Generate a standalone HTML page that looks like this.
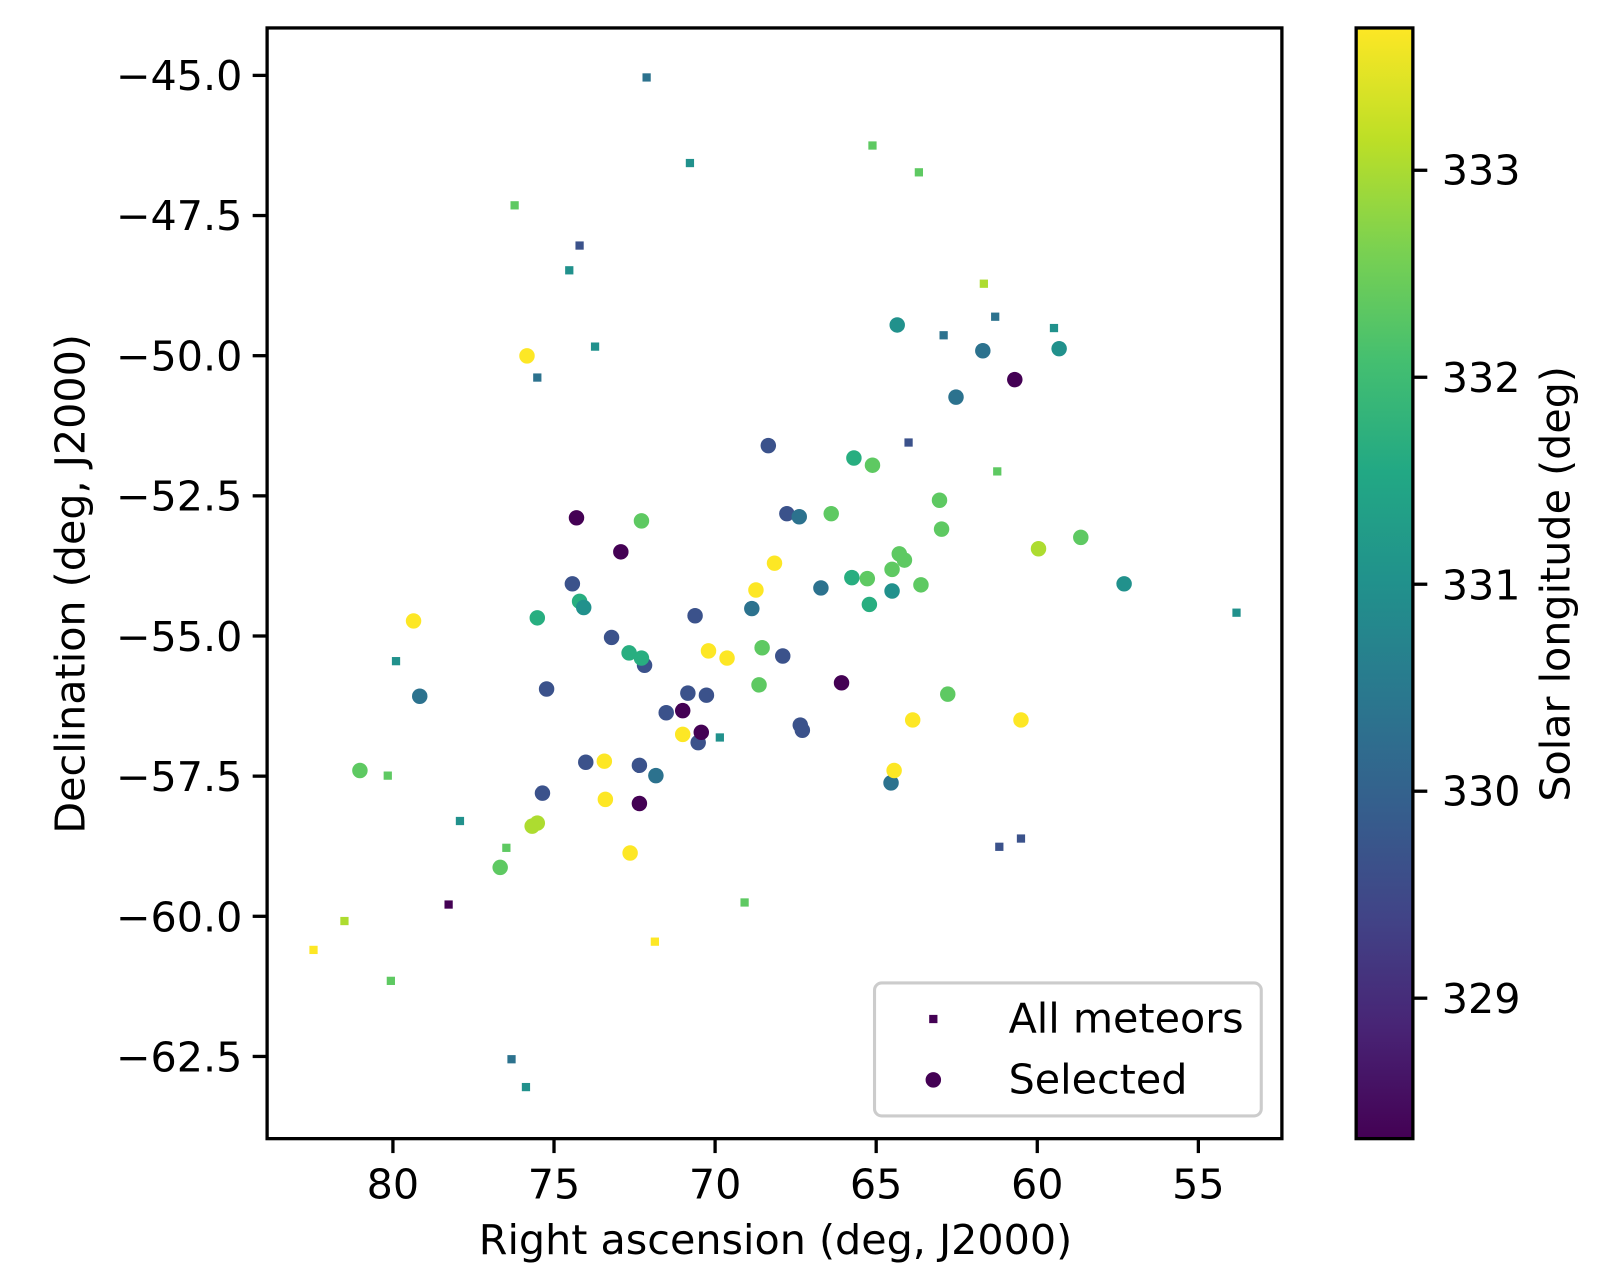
<!DOCTYPE html>
<html><head><meta charset="utf-8"><style>
body{margin:0;background:#fff}
svg{display:block}
text{font-family:"DejaVu Sans","Liberation Sans",sans-serif;fill:#000}
.P{fill:#440154}.I{fill:#3b528b}.B{fill:#2c728e}.T{fill:#21918c}.G{fill:#28ae80}.L{fill:#5ec962}.Y{fill:#addc30}.Z{fill:#fde725}
</style></head><body>
<svg width="1615" height="1279" viewBox="0 0 1566 1240" xmlns="http://www.w3.org/2000/svg">
<defs>
<linearGradient id="vir" x1="0" y1="1" x2="0" y2="0">
<stop offset="0" stop-color="#440154"/><stop offset="0.1" stop-color="#482475"/><stop offset="0.2" stop-color="#414487"/><stop offset="0.3" stop-color="#355f8d"/><stop offset="0.4" stop-color="#2a788e"/><stop offset="0.5" stop-color="#21918c"/><stop offset="0.6" stop-color="#22a884"/><stop offset="0.7" stop-color="#44bf70"/><stop offset="0.8" stop-color="#7ad151"/><stop offset="0.9" stop-color="#bddf26"/><stop offset="1" stop-color="#fde725"/>
</linearGradient>
</defs>
<rect x="0" y="0" width="1566" height="1240" fill="#fff"/>
<g>
<!-- squares -->
<g>
<rect class="B" x="623" y="71" width="8" height="8"/>
<rect class="T" x="665" y="154" width="8" height="8"/>
<rect class="L" x="842" y="137" width="8" height="8"/>
<rect class="L" x="887" y="163" width="8" height="8"/>
<rect class="L" x="495" y="195" width="8" height="8"/>
<rect class="I" x="558" y="234" width="8" height="8"/>
<rect class="T" x="548" y="258" width="8" height="8"/>
<rect class="Y" x="950" y="271" width="8" height="8"/>
<rect class="B" x="961" y="303" width="8" height="8"/>
<rect class="B" x="911" y="321" width="8" height="8"/>
<rect class="T" x="1018" y="314" width="8" height="8"/>
<rect class="T" x="573" y="332" width="8" height="8"/>
<rect class="B" x="517" y="362" width="8" height="8"/>
<rect class="I" x="877" y="425" width="8" height="8"/>
<rect class="L" x="963" y="453" width="8" height="8"/>
<rect class="T" x="1195" y="590" width="8" height="8"/>
<rect class="T" x="380" y="637" width="8" height="8"/>
<rect class="L" x="372" y="748" width="8" height="8"/>
<rect class="T" x="442" y="792" width="8" height="8"/>
<rect class="L" x="487" y="818" width="8" height="8"/>
<rect class="T" x="694" y="711" width="8" height="8"/>
<rect class="P" x="431" y="873" width="8" height="8"/>
<rect class="L" x="718" y="871" width="8" height="8"/>
<rect class="Y" x="330" y="889" width="8" height="8"/>
<rect class="Z" x="300" y="917" width="8" height="8"/>
<rect class="Z" x="631" y="909" width="8" height="8"/>
<rect class="L" x="375" y="947" width="8" height="8"/>
<rect class="I" x="965" y="817" width="8" height="8"/>
<rect class="I" x="986" y="809" width="8" height="8"/>
<rect class="B" x="492" y="1023" width="8" height="8"/>
<rect class="T" x="506" y="1050" width="8" height="8"/>
</g>
<g>
<circle class="T" cx="870" cy="315" r="7.5"/>
<circle class="B" cx="953" cy="340" r="7.5"/>
<circle class="T" cx="1027" cy="338" r="7.5"/>
<circle class="P" cx="984" cy="368" r="7.5"/>
<circle class="B" cx="927" cy="385" r="7.5"/>
<circle class="Z" cx="511" cy="345" r="7.5"/>
<circle class="I" cx="745" cy="432" r="7.5"/>
<circle class="G" cx="828" cy="444" r="7.5"/>
<circle class="L" cx="846" cy="451" r="7.5"/>
<circle class="P" cx="559" cy="502" r="7.5"/>
<circle class="L" cx="622" cy="505" r="7.5"/>
<circle class="P" cx="602" cy="535" r="7.5"/>
<circle class="I" cx="763" cy="498" r="7.5"/>
<circle class="B" cx="775" cy="501" r="7.5"/>
<circle class="L" cx="806" cy="498" r="7.5"/>
<circle class="L" cx="911" cy="485" r="7.5"/>
<circle class="L" cx="913" cy="513" r="7.5"/>
<circle class="Y" cx="1007" cy="532" r="7.5"/>
<circle class="L" cx="1048" cy="521" r="7.5"/>
<circle class="Z" cx="751" cy="546" r="7.5"/>
<circle class="Z" cx="733" cy="572" r="7.5"/>
<circle class="B" cx="796" cy="570" r="7.5"/>
<circle class="G" cx="826" cy="560" r="7.5"/>
<circle class="L" cx="841" cy="561" r="7.5"/>
<circle class="L" cx="865" cy="552" r="7.5"/>
<circle class="L" cx="877" cy="543" r="7.5"/>
<circle class="L" cx="872" cy="537" r="7.5"/>
<circle class="L" cx="893" cy="567" r="7.5"/>
<circle class="T" cx="865" cy="573" r="7.5"/>
<circle class="G" cx="843" cy="586" r="7.5"/>
<circle class="T" cx="1090" cy="566" r="7.5"/>
<circle class="I" cx="555" cy="566" r="7.5"/>
<circle class="G" cx="562" cy="583" r="7.5"/>
<circle class="T" cx="566" cy="589" r="7.5"/>
<circle class="G" cx="521" cy="599" r="7.5"/>
<circle class="Z" cx="401" cy="602" r="7.5"/>
<circle class="I" cx="674" cy="597" r="7.5"/>
<circle class="B" cx="729" cy="590" r="7.5"/>
<circle class="I" cx="593" cy="618" r="7.5"/>
<circle class="G" cx="610" cy="633" r="7.5"/>
<circle class="I" cx="625" cy="645" r="7.5"/>
<circle class="G" cx="622" cy="638" r="7.5"/>
<circle class="L" cx="739" cy="628" r="7.5"/>
<circle class="I" cx="759" cy="636" r="7.5"/>
<circle class="Z" cx="687" cy="631" r="7.5"/>
<circle class="Z" cx="705" cy="638" r="7.5"/>
<circle class="I" cx="530" cy="668" r="7.5"/>
<circle class="B" cx="407" cy="675" r="7.5"/>
<circle class="I" cx="667" cy="672" r="7.5"/>
<circle class="I" cx="685" cy="674" r="7.5"/>
<circle class="P" cx="816" cy="662" r="7.5"/>
<circle class="L" cx="736" cy="664" r="7.5"/>
<circle class="L" cx="919" cy="673" r="7.5"/>
<circle class="I" cx="646" cy="691" r="7.5"/>
<circle class="P" cx="662" cy="689" r="7.5"/>
<circle class="I" cx="677" cy="720" r="7.5"/>
<circle class="Z" cx="662" cy="712" r="7.5"/>
<circle class="P" cx="680" cy="710" r="7.5"/>
<circle class="I" cx="776" cy="703" r="7.5"/>
<circle class="I" cx="778" cy="708" r="7.5"/>
<circle class="Z" cx="885" cy="698" r="7.5"/>
<circle class="Z" cx="990" cy="698" r="7.5"/>
<circle class="Z" cx="586" cy="738" r="7.5"/>
<circle class="I" cx="568" cy="739" r="7.5"/>
<circle class="I" cx="620" cy="742" r="7.5"/>
<circle class="B" cx="636" cy="752" r="7.5"/>
<circle class="L" cx="349" cy="747" r="7.5"/>
<circle class="I" cx="526" cy="769" r="7.5"/>
<circle class="B" cx="864" cy="759" r="7.5"/>
<circle class="Z" cx="867" cy="747" r="7.5"/>
<circle class="Z" cx="587" cy="775" r="7.5"/>
<circle class="P" cx="620" cy="779" r="7.5"/>
<circle class="Y" cx="521" cy="798" r="7.5"/>
<circle class="Y" cx="516" cy="801" r="7.5"/>
<circle class="L" cx="485" cy="841" r="7.5"/>
<circle class="Z" cx="611" cy="827" r="7.5"/>
</g>
</g>
<!-- axes frame -->
<rect x="259" y="27" width="984" height="1077" fill="none" stroke="#000" stroke-width="3.2"/>
<!-- y ticks -->
<g stroke="#000" stroke-width="3.2">
<line x1="245" y1="73" x2="259" y2="73"/>
<line x1="245" y1="208.9" x2="259" y2="208.9"/>
<line x1="245" y1="344.8" x2="259" y2="344.8"/>
<line x1="245" y1="480.7" x2="259" y2="480.7"/>
<line x1="245" y1="616.6" x2="259" y2="616.6"/>
<line x1="245" y1="752.5" x2="259" y2="752.5"/>
<line x1="245" y1="888.4" x2="259" y2="888.4"/>
<line x1="245" y1="1024.3" x2="259" y2="1024.3"/>
<line x1="381" y1="1104" x2="381" y2="1118"/>
<line x1="537.2" y1="1104" x2="537.2" y2="1118"/>
<line x1="693.4" y1="1104" x2="693.4" y2="1118"/>
<line x1="849.6" y1="1104" x2="849.6" y2="1118"/>
<line x1="1005.8" y1="1104" x2="1005.8" y2="1118"/>
<line x1="1162" y1="1104" x2="1162" y2="1118"/>
</g>
<g font-size="40" text-anchor="end">
<text x="235" y="87">−45.0</text>
<text x="235" y="223">−47.5</text>
<text x="235" y="359">−50.0</text>
<text x="235" y="495">−52.5</text>
<text x="235" y="631">−55.0</text>
<text x="235" y="767">−57.5</text>
<text x="235" y="903">−60.0</text>
<text x="235" y="1039">−62.5</text>
</g>
<g font-size="40" text-anchor="middle">
<text x="381" y="1162">80</text>
<text x="537.2" y="1162">75</text>
<text x="693.4" y="1162">70</text>
<text x="849.6" y="1162">65</text>
<text x="1005.8" y="1162">60</text>
<text x="1162" y="1162">55</text>
<text x="752" y="1216">Right ascension (deg, J2000)</text>
<text transform="translate(82,566) rotate(-90)">Declination (deg, J2000)</text>
<text transform="translate(1522,566) rotate(-90)">Solar longitude (deg)</text>
</g>
<!-- legend -->
<rect x="848" y="953" width="375" height="129" rx="7" fill="#fff" fill-opacity="0.8" stroke="#cccccc" stroke-width="3"/>
<rect class="P" x="901" y="984" width="8" height="8"/>
<circle class="P" cx="905" cy="1047" r="7.5"/>
<text x="978" y="1001" font-size="40">All meteors</text>
<text x="978" y="1060" font-size="40">Selected</text>
<!-- colorbar -->
<rect x="1315" y="27" width="55" height="1077" fill="url(#vir)" stroke="#000" stroke-width="3.2"/>
<g stroke="#000" stroke-width="3.2">
<line x1="1370" y1="165" x2="1384" y2="165"/>
<line x1="1370" y1="365.7" x2="1384" y2="365.7"/>
<line x1="1370" y1="566.4" x2="1384" y2="566.4"/>
<line x1="1370" y1="767.1" x2="1384" y2="767.1"/>
<line x1="1370" y1="967.8" x2="1384" y2="967.8"/>
</g>
<g font-size="40">
<text x="1398" y="179">333</text>
<text x="1398" y="380">332</text>
<text x="1398" y="581">331</text>
<text x="1398" y="781">330</text>
<text x="1398" y="982">329</text>
</g>
</svg>
</body></html>
